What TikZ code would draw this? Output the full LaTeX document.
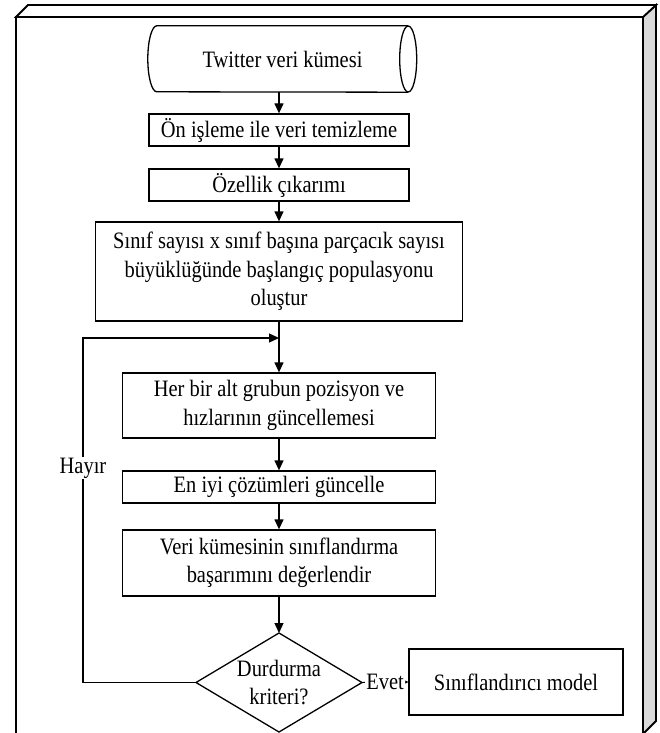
\documentclass[tikz,border=0pt]{standalone}
\usepackage{fontspec}
\newfontfamily\tf[FakeStretch=0.87]{Liberation Serif}
\usetikzlibrary{arrows.meta}
\definecolor{sidegray}{HTML}{DADADA}
\tikzset{
  box/.style={draw, line width=1.3pt, inner sep=0pt, align=center,
    font=\tf\fontsize{23.5}{28.5}\selectfont},
  txt/.style={inner sep=0pt, align=center, font=\tf\fontsize{23.5}{28.5}\selectfont},
  arr/.style={line width=1.3pt, -{Triangle[length=10pt,width=9pt]}},
  frameline/.style={line width=1.8pt, line join=miter}
}
\begin{document}
\begin{tikzpicture}[x=1pt,y=-1pt]
\useasboundingbox (0,0) rectangle (660,733);
% frame
\draw[frameline, fill=sidegray] (643,17) -- (656,5) -- (656,721) -- (643,734) -- cycle;
\draw[frameline, fill=white] (16,17) -- (28,5) -- (656,5) -- (643,17) -- cycle;
\draw[frameline] (16,745) -- (16,17) -- (643,17) -- (643,745);
% nodes
\node[txt, minimum width=251pt, minimum height=66pt] (cyl) at (282.5,59) {Twitter veri kümesi};
\draw[line width=1.3pt] (cyl.north east) -- (cyl.north west)
  arc[start angle=90, end angle=270, x radius=9pt, y radius=33pt] -- (cyl.south east);
\draw[line width=1.3pt] (cyl.east) ellipse[x radius=8.5pt, y radius=33pt];
\node[box, minimum width=260pt, minimum height=32pt] (r1) at (279,130) {Ön işleme ile veri temizleme};
\node[box, minimum width=260pt, minimum height=32pt] (r2) at (279,185) {Özellik çıkarımı};
\node[box, minimum width=367pt, minimum height=99pt] (r3) at (279,271.5) {Sınıf sayısı x sınıf başına parçacık sayısı\\büyüklüğünde başlangıç populasyonu\\oluştur};
\node[box, minimum width=313pt, minimum height=65pt] (r4) at (279,405.5) {Her bir alt grubun pozisyon ve\\hızlarının güncellemesi};
\node[box, minimum width=313pt, minimum height=32pt] (r5) at (279,487) {En iyi çözümleri güncelle};
\node[box, minimum width=313pt, minimum height=66pt] (r6) at (279,563) {Veri kümesinin sınıflandırma\\başarımını değerlendir};
% decision
\coordinate (dT) at (279,633);
\coordinate (dR) at (362,682.5);
\coordinate (dB) at (279,732);
\coordinate (dL) at (196,682.5);
\draw[line width=1.3pt, line join=miter] (dT) -- (dR) -- (dB) -- (dL) -- cycle;
\node[txt] (dtext) at (279,682.5) {Durdurma\\kriteri?};
\node[box, minimum width=214pt, minimum height=66pt] (m) at (516,682) {Sınıflandırıcı model};
% connectors
\draw[arr] (cyl.south -| r1.north) -- (r1.north);
\draw[arr] (r1.south) -- (r2.north);
\draw[arr] (r2.south) -- (r3.north);
\draw[arr] (r3.south) -- (r4.north);
\draw[arr] (r4.south) -- (r5.north);
\draw[arr] (r5.south) -- (r6.north);
\draw[arr] (r6.south) -- (dT);
\coordinate (fbL) at (83,682.5);
\coordinate (fbT) at (83,338);
\coordinate (junc) at (279,338);
\draw[arr] (dL) -- (fbL) -- node[txt, fill=white, pos=0.623, inner sep=1pt] {Hayır} (fbT) -- (junc);
\draw[line width=1pt, -{Triangle[length=3pt,width=3pt]}] (dR) -- node[txt, fill=white, inner sep=1pt] {Evet} (m.west);
\end{tikzpicture}
\end{document}
